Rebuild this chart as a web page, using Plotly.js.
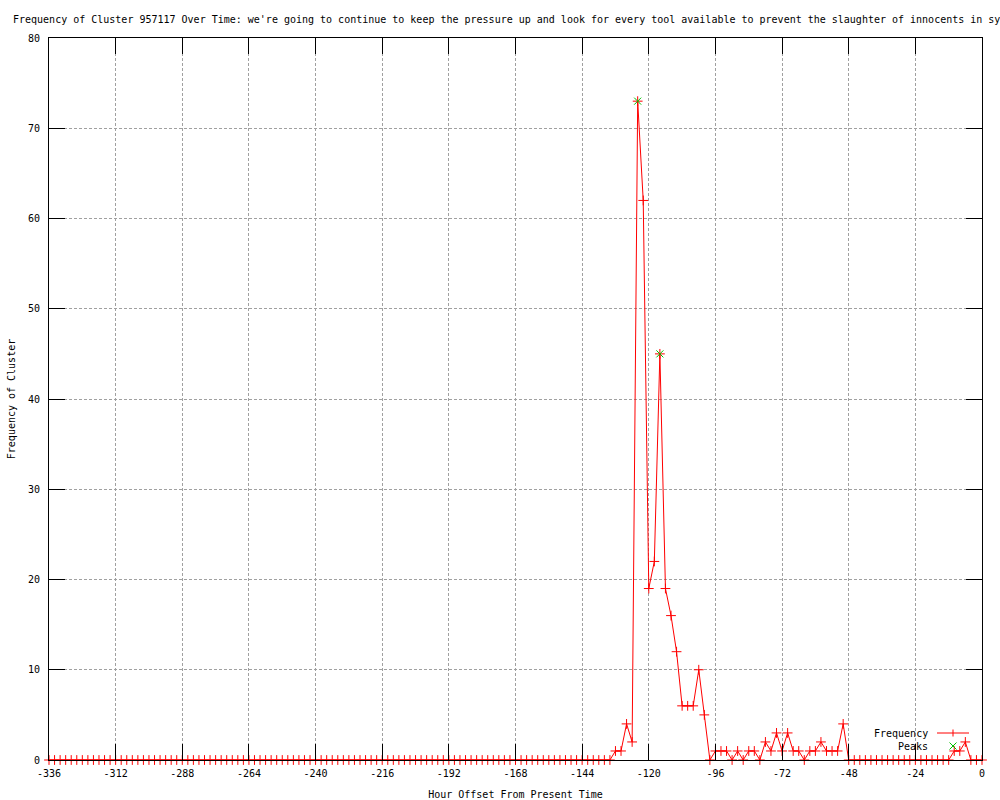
<!DOCTYPE html>
<html>
<head>
<meta charset="utf-8">
<script src="https://cdn.plot.ly/plotly-3.0.1.min.js"></script>
<style>
html, body { margin: 0; padding: 0; background: #ffffff; }
#chart { width: 1000px; height: 800px; }
</style>
</head>
<body>
<div id="chart"></div>
<script>
// ---- data ----
const hours = [
  -336,-334,-332,-330,-328,-326,-324,-322,-320,-318,-316,-314,-312,-310,-308,-306,-304,-302,-300,-298,
  -296,-294,-292,-290,-288,-286,-284,-282,-280,-278,-276,-274,-272,-270,-268,-266,-264,-262,-260,-258,
  -256,-254,-252,-250,-248,-246,-244,-242,-240,-238,-236,-234,-232,-230,-228,-226,-224,-222,-220,-218,
  -216,-214,-212,-210,-208,-206,-204,-202,-200,-198,-196,-194,-192,-190,-188,-186,-184,-182,-180,-178,
  -176,-174,-172,-170,-168,-166,-164,-162,-160,-158,-156,-154,-152,-150,-148,-146,-144,-142,-140,-138,
  -136,-134,-132,-130,-128,-126,-124,-122,-120,-118,-116,-114,-112,-110,-108,-106,-104,-102,-100,-98,
  -96,-94,-92,-90,-88,-86,-84,-82,-80,-78,-76,-74,-72,-70,-68,-66,-64,-62,-60,-58,
  -56,-54,-52,-50,-48,-46,-44,-42,-40,-38,-36,-34,-32,-30,-28,-26,-24,-22,-20,-18,
  -16,-14,-12,-10,-8,-6,-4,-2,0
];
const frequency = [
  0,0,0,0,0,0,0,0,0,0,0,0,0,0,0,0,0,0,0,0,
  0,0,0,0,0,0,0,0,0,0,0,0,0,0,0,0,0,0,0,0,
  0,0,0,0,0,0,0,0,0,0,0,0,0,0,0,0,0,0,0,0,
  0,0,0,0,0,0,0,0,0,0,0,0,0,0,0,0,0,0,0,0,
  0,0,0,0,0,0,0,0,0,0,0,0,0,0,0,0,0,0,0,0,
  0,0,1,1,4,2,73,62,19,22,45,19,16,12,6,6,6,10,5,0,
  1,1,1,0,1,0,1,1,0,2,1,3,1,3,1,1,0,1,1,2,
  1,1,1,4,0,0,0,0,0,0,0,0,0,0,0,0,0,0,0,0,
  0,0,0,1,1,2,0,0,0
];
const peakHours = [-124, -116];
const peakValues = [73, 45];

const xTickVals = [-336,-312,-288,-264,-240,-216,-192,-168,-144,-120,-96,-72,-48,-24,0];
const xTickText = ['-336','-312','-288','-264','-240','-216','-192','-168','-144','-120','-96','-72','-48','-24','0'];
const yTickVals = [0,10,20,30,40,50,60,70,80];
const yTickText = ['0','10','20','30','40','50','60','70','80'];

const titleText = "Frequency of Cluster 957117 Over Time: we're going to continue to keep the pressure up and look for every tool available to prevent the slaughter of innocents in syria";
const xTitle = 'Hour Offset From Present Time';
const yTitle = 'Frequency of Cluster';
const seriesNames = ['Frequency', 'Peaks'];

// ---- styling ----
const FONT = 'DejaVu Sans Mono, Liberation Mono, monospace';
const RED = '#ff0000';
const GREEN = '#00c000';
const GRID = '#a0a0a0';

const M = {l: 49, r: 18, t: 38, b: 40};
const W = 1000, H = 800;
const PW = W - M.l - M.r, PH = H - M.t - M.b;
const px2x = p => (p - M.l) / PW;
const px2y = p => (H - M.b - p) / PH;

const traces = [
  {
    type: 'scatter', mode: 'lines+markers', name: seriesNames[0],
    x: hours, y: frequency,
    line: {color: RED, width: 1},
    marker: {symbol: 'cross-thin-open', size: 7, color: RED, line: {color: RED, width: 1}},
    showlegend: false, cliponaxis: false
  },
  {
    type: 'scatter', mode: 'markers', name: seriesNames[1],
    x: peakHours, y: peakValues,
    marker: {symbol: 'x-thin-open', size: 7, color: GREEN, line: {color: GREEN, width: 1}},
    showlegend: false, cliponaxis: false
  }
];

const axisCommon = {
  showline: true, linecolor: '#000000', linewidth: 1, mirror: 'ticks',
  ticks: 'inside', ticklen: 16, tickwidth: 1, tickcolor: '#000000',
  showgrid: true, gridcolor: GRID, gridwidth: 1, griddash: '3px,2px',
  zeroline: false, layer: 'above traces', fixedrange: true,
  tickfont: {family: FONT, size: 10, color: '#000000'}
};

// legend drawn gnuplot-style: text on the left, sample on the right
const legY1 = 733, legY2 = 746, legTextRight = 930, legSampleL = 937, legSampleR = 969, legSampleC = 953;
const shapes = [
  {type: 'line', xref: 'paper', yref: 'paper', x0: px2x(legSampleL), x1: px2x(legSampleR), y0: px2y(legY1), y1: px2y(legY1), line: {color: RED, width: 1}},
  {type: 'line', xref: 'paper', yref: 'paper', x0: px2x(legSampleC), x1: px2x(legSampleC), y0: px2y(legY1 - 3.5), y1: px2y(legY1 + 3.5), line: {color: RED, width: 1}},
  {type: 'line', xref: 'paper', yref: 'paper', x0: px2x(legSampleC - 3.5), x1: px2x(legSampleC + 3.5), y0: px2y(legY2 - 3.5), y1: px2y(legY2 + 3.5), line: {color: GREEN, width: 1}},
  {type: 'line', xref: 'paper', yref: 'paper', x0: px2x(legSampleC - 3.5), x1: px2x(legSampleC + 3.5), y0: px2y(legY2 + 3.5), y1: px2y(legY2 - 3.5), line: {color: GREEN, width: 1}}
];
const annotations = [
  {text: seriesNames[0], xref: 'paper', yref: 'paper', x: px2x(legTextRight), y: px2y(legY1), xanchor: 'right', yanchor: 'middle', showarrow: false, font: {family: FONT, size: 10, color: '#000'}},
  {text: seriesNames[1], xref: 'paper', yref: 'paper', x: px2x(legTextRight), y: px2y(legY2), xanchor: 'right', yanchor: 'middle', showarrow: false, font: {family: FONT, size: 10, color: '#000'}}
];

const layout = {
  width: W, height: H,
  margin: M,
  paper_bgcolor: '#ffffff', plot_bgcolor: '#ffffff',
  showlegend: false,
  title: {
    text: titleText, xref: 'container', yref: 'container',
    x: 13 / W, xanchor: 'left', y: 1 - 19 / H, yanchor: 'middle',
    font: {family: FONT, size: 10, color: '#000000'}
  },
  xaxis: Object.assign({}, axisCommon, {
    range: [-336, 0], tickmode: 'array', tickvals: xTickVals, ticktext: xTickText,
    ticklabelstandoff: 4,
    title: {text: xTitle, font: {family: FONT, size: 10, color: '#000000'}, standoff: 12}
  }),
  yaxis: Object.assign({}, axisCommon, {
    range: [0, 80], tickmode: 'array', tickvals: yTickVals, ticktext: yTickText,
    ticklabelstandoff: 6,
    title: {text: yTitle, font: {family: FONT, size: 10, color: '#000000'}, standoff: 10}
  }),
  shapes: shapes,
  annotations: annotations
};

Plotly.newPlot('chart', traces, layout, {staticPlot: true, displayModeBar: false});
</script>
</body>
</html>
